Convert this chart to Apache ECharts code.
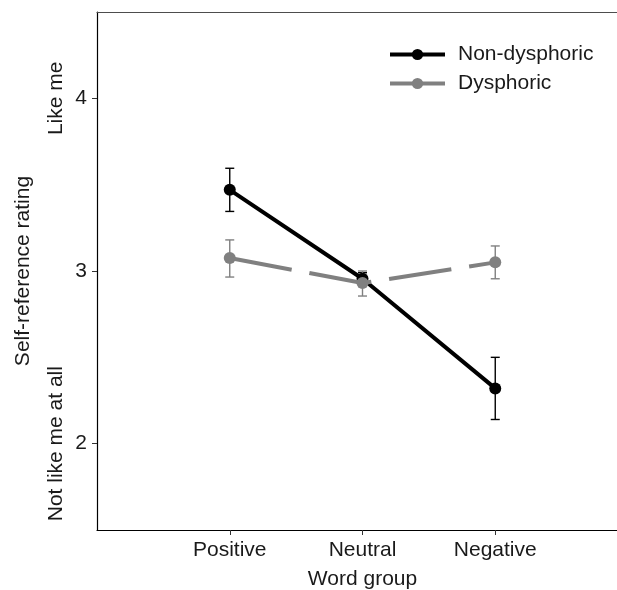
<!DOCTYPE html>
<html>
<head>
<meta charset="utf-8">
<script src="https://cdn.jsdelivr.net/npm/echarts@6/dist/echarts.min.js"></script>
<style>
  html, body { margin: 0; padding: 0; background: #fff; }
  #main { width: 617px; height: 590px; }
</style>
</head>
<body>
<div id="main"></div>
<script>
// word groups sit at x = 1, 2, 3 on the value axis
const categories = ['Positive', 'Neutral', 'Negative'];
const catPos = [1, 2, 3];

const nonDysMean = [3.47, 2.955, 2.32];
const nonDysLow = [3.345, 2.92, 2.14];
const nonDysHigh = [3.595, 2.99, 2.50];

const dysMean = [3.075, 2.93, 3.05];
const dysLow = [2.965, 2.855, 2.955];
const dysHigh = [3.18, 3.0, 3.145];

const yTicks = [2, 3, 4];
const yEndLabels = { 4: 'Like me', 2: 'Not like me at all' };

const FONT = 'Liberation Sans, Arial, Helvetica, sans-serif';
const BLACK = '#000000';
const GREY = '#808080';
const TXT = '#1a1a1a';

const chart = echarts.init(document.getElementById('main'));

function pairs(ys) {
  return catPos.map((x, i) => [x, ys[i]]);
}
function errData(lo, hi) {
  return catPos.map((x, i) => [x, lo[i], hi[i]]);
}
function errRender(color) {
  return function (params, api) {
    const x = api.value(0);
    const lo = api.coord([x, api.value(1)]);
    const hi = api.coord([x, api.value(2)]);
    const hw = 4.5;
    const st = { stroke: color, lineWidth: 1.4 };
    return {
      type: 'group',
      children: [
        { type: 'line', shape: { x1: lo[0], y1: lo[1], x2: hi[0], y2: hi[1] }, style: st },
        { type: 'line', shape: { x1: lo[0] - hw, y1: lo[1], x2: lo[0] + hw, y2: lo[1] }, style: st },
        { type: 'line', shape: { x1: hi[0] - hw, y1: hi[1], x2: hi[0] + hw, y2: hi[1] }, style: st }
      ]
    };
  };
}

const option = {
  animation: false,
  backgroundColor: '#ffffff',
  textStyle: { fontFamily: FONT },
  // panel runs past the right edge of the picture, as in the original
  grid: { left: 97, top: 12, width: 531, bottom: 60, containLabel: false, outerBoundsMode: 'none' },
  legend: {
    orient: 'vertical',
    left: 383,
    top: 39,
    itemWidth: 55,
    itemHeight: 14,
    itemGap: 8,
    data: ['Non-dysphoric', 'Dysphoric'],
    lineStyle: { width: 4 },
    textStyle: { fontFamily: FONT, fontSize: 21, color: TXT, padding: [0, 0, 0, 8] }
  },
  xAxis: [{
    type: 'value',
    min: 0,
    max: 4,
    interval: 1,
    name: 'Word group',
    nameLocation: 'middle',
    nameGap: 39,
    nameTextStyle: { fontFamily: FONT, fontSize: 21, color: TXT },
    axisLine: { show: true, onZero: false, lineStyle: { color: BLACK, width: 1.2 } },
    axisTick: { show: true, length: 5, customValues: catPos, lineStyle: { color: '#333', width: 1 } },
    axisLabel: {
      customValues: catPos,
      margin: 10,
      fontFamily: FONT, fontSize: 21, color: TXT,
      formatter: v => categories[catPos.indexOf(v)] || ''
    },
    splitLine: { show: false }
  }, {
    type: 'value',
    position: 'top',
    min: 0,
    max: 4,
    axisLine: { show: true, onZero: false, lineStyle: { color: '#4d4d4d', width: 1.2 } },
    axisTick: { show: false },
    axisLabel: { show: false },
    splitLine: { show: false }
  }],
  yAxis: [{
    type: 'value',
    min: 1.5,
    max: 4.5,
    name: 'Self-reference rating',
    nameLocation: 'middle',
    nameRotate: 90,
    nameGap: 63,
    nameTextStyle: { fontFamily: FONT, fontSize: 21, color: TXT },
    axisLine: { show: true, onZero: false, lineStyle: { color: BLACK, width: 1.2 } },
    axisTick: { show: true, length: 5, customValues: yTicks, lineStyle: { color: '#333', width: 1 } },
    axisLabel: {
      customValues: yTicks,
      margin: 10,
      fontFamily: FONT, fontSize: 21, color: TXT,
      formatter: v => String(v)
    },
    splitLine: { show: false }
  }, {
    type: 'value',
    position: 'left',
    offset: 22,
    min: 1.5,
    max: 4.5,
    axisLine: { show: false },
    axisTick: { show: false },
    axisLabel: {
      customValues: [2, 4],
      rotate: 90,
      margin: 8,
      fontFamily: FONT, fontSize: 21, color: TXT,
      formatter: v => yEndLabels[v] || ''
    },
    splitLine: { show: false }
  }],
  series: [
    {
      name: 'Non-dysphoric err',
      type: 'custom',
      renderItem: errRender(BLACK),
      data: errData(nonDysLow, nonDysHigh),
      z: 1,
      silent: true
    },
    {
      name: 'Dysphoric err',
      type: 'custom',
      renderItem: errRender(GREY),
      data: errData(dysLow, dysHigh),
      z: 1,
      silent: true
    },
    {
      name: 'Non-dysphoric',
      type: 'line',
      data: pairs(nonDysMean),
      symbol: 'circle',
      symbolSize: 12,
      itemStyle: { color: BLACK },
      lineStyle: { color: BLACK, width: 4 },
      z: 2
    },
    {
      name: 'Dysphoric',
      type: 'line',
      data: pairs(dysMean),
      symbol: 'circle',
      symbolSize: 12,
      itemStyle: { color: GREY },
      lineStyle: { color: GREY, width: 4, type: [63, 18], cap: 'butt' },
      z: 3
    }
  ]
};

chart.setOption(option);
</script>
</body>
</html>
